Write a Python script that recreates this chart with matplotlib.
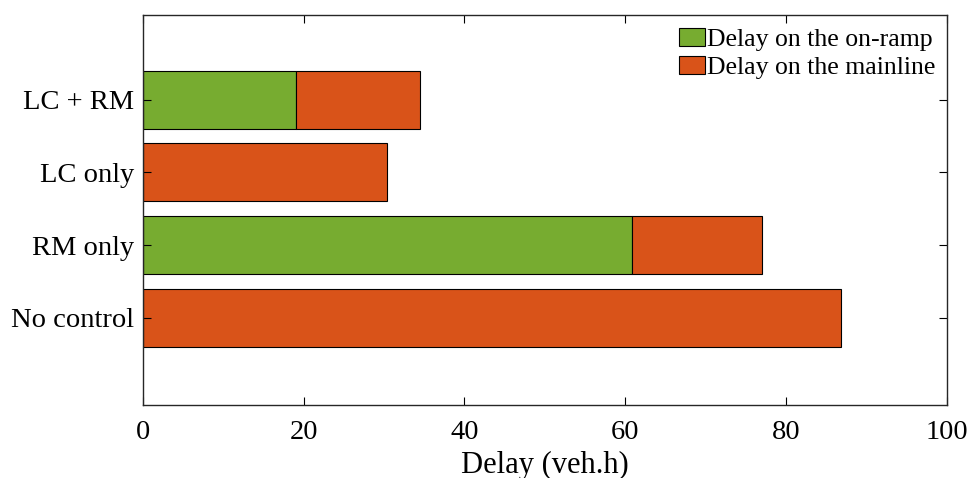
import numpy as np
import matplotlib.pyplot as plt

plt.rcParams['font.family'] = ['Liberation Serif', 'DejaVu Serif']

# data
cases = ['No control', 'RM only', 'LC only', 'LC + RM']
onramp = [0.0, 60.9, 0.0, 19.1]
mainline = [86.8, 16.1, 30.4, 15.4]

green = '#77AC30'
red = '#D95319'

fig = plt.figure(figsize=(9.71, 4.78), dpi=100)
ax = fig.add_axes([0.147, 0.153, 0.828, 0.816])

y = np.arange(1, len(cases) + 1)
ax.barh(y, onramp, height=0.8, color=green, edgecolor='k', linewidth=0.8,
        label='Delay on the on-ramp')
ax.barh(y, mainline, left=onramp, height=0.8, color=red, edgecolor='k',
        linewidth=0.8, label='Delay on the mainline')

ax.set_xlim(0, 100)
ax.set_ylim(-0.2, 5.17)
ax.set_xticks(np.arange(0, 101, 20))
ax.set_yticks(y)
ax.set_yticklabels(cases)
ax.tick_params(direction='in', top=True, right=True, length=6, width=0.8,
               labelsize=20.5)
ax.tick_params(axis='y', pad=6)
ax.tick_params(axis='x', pad=11)
ax.set_xlabel('Delay (veh.h)', fontsize=22, labelpad=4)
for s in ax.spines.values():
    s.set_linewidth(1.0)
    s.set_color('#262626')

ax.legend(loc='upper right', bbox_to_anchor=(0.994, 0.982), frameon=False,
          fontsize=18.5, handlelength=1.0, handleheight=0.7,
          handletextpad=0.1, labelspacing=0.2, borderaxespad=0.15,
          borderpad=0.1)

plt.savefig('out.png', dpi=100)
